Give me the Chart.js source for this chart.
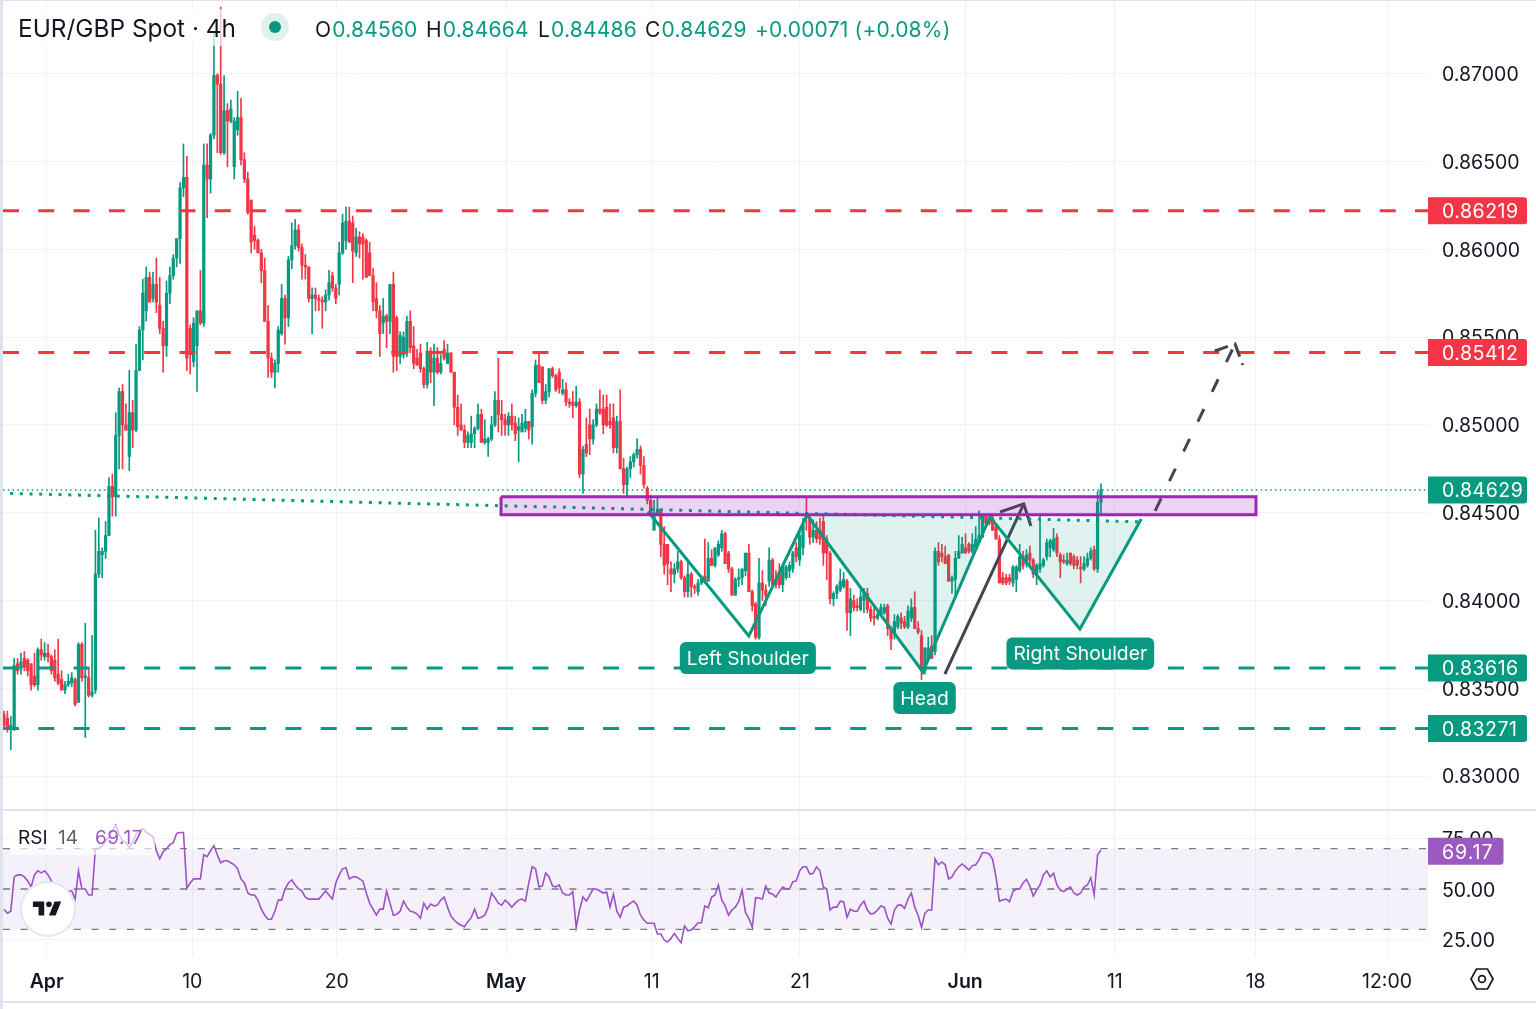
<!DOCTYPE html>
<html>
<head>
<meta charset="utf-8">
<title>EUR/GBP Spot 4h</title>
<script src="https://cdn.jsdelivr.net/npm/chart.js@4/dist/chart.umd.min.js"></script>
<style>
    html, body { margin: 0; padding: 0; background: #fff; }
    #page { position: relative; width: 1536px; height: 1009px; overflow: hidden; font-family: Inter, sans-serif; color: #131722; }
    canvas { position: absolute; left: 0; }
    #mainChart { top: 0; }
    #rsiChart { top: 810px; }
    .rule { position: absolute; background: #e0e3eb; }
    .txt { position: absolute; white-space: nowrap; line-height: 1; }
    .ohlc { top: 19px; font-size: 21px; letter-spacing: .2px; }
    .up { color: #089981; margin-left: 1px; }
    #headerBg { position: absolute; left: 10px; top: 9px; width: 950px; height: 37px; background: rgba(255,255,255,.7); }
    #rsiBg { position: absolute; left: 10px; top: 825px; width: 145px; height: 30px; background: rgba(255,255,255,.65); }
    #dotHalo { position: absolute; left: 261px; top: 13px; width: 28px; height: 28px; border-radius: 50%; background: #dff2ee; }
    #dot { position: absolute; left: 269px; top: 21px; width: 12px; height: 12px; border-radius: 50%; background: #089981; }
    #logo { position: absolute; left: 22px; top: 883px; width: 52px; height: 52px; border-radius: 50%; background: #fff; box-shadow: 0 0 0 2px #e4e6ed; }
    #logo svg { position: absolute; left: 9px; top: 12px; }
    #gear { position: absolute; left: 1469px; top: 966px; }
</style>
</head>
<body>
<div id="page">
    <canvas id="mainChart" width="1536" height="809"></canvas>
    <canvas id="rsiChart" width="1536" height="191"></canvas>

    <div class="rule" style="left:0;top:0;width:3px;height:1009px"></div>
    <div class="rule" style="left:0;top:0;width:1536px;height:1px"></div>
    <div class="rule" style="left:0;top:809px;width:1536px;height:2px"></div>
    <div class="rule" style="left:0;top:1001px;width:1536px;height:2px"></div>

    <div id="headerBg"></div>
    <div class="txt" style="left:18px;top:16px;font-size:24.4px">EUR/GBP Spot · 4h</div>
    <div id="dotHalo"></div>
    <div id="dot"></div>
    <div class="txt ohlc" style="left:315px">O<span class="up">0.84560</span></div>
    <div class="txt ohlc" style="left:426px">H<span class="up">0.84664</span></div>
    <div class="txt ohlc" style="left:538px">L<span class="up">0.84486</span></div>
    <div class="txt ohlc" style="left:645px">C<span class="up">0.84629</span></div>
    <div class="txt ohlc up" style="left:755px;margin:0">+0.00071 (+0.08%)</div>

    <div id="rsiBg"></div>
    <div class="txt" style="left:18px;top:828px;font-size:19px">RSI</div>
    <div class="txt" style="left:58px;top:828px;font-size:19px;color:#5d606b">14</div>
    <div class="txt" style="left:95px;top:828px;font-size:19px;letter-spacing:.5px;color:#9c59c4">69.17</div>

    <div id="logo">
        <svg width="34" height="28" viewBox="0 0 36 28"><path fill="#131722" d="M14 6H2v6h6v9h6V6zm12 15h-7l6-15h7l-6 15zm-7-9a3 3 0 1 0 0-6 3 3 0 0 0 0 6z"/></svg>
    </div>
    <svg id="gear" width="26" height="26" viewBox="0 0 26 26"><path fill="none" stroke="#131722" stroke-width="1.7" d="M7.5 3h11L24 13l-5.500 10h-11L2 13z"/><circle cx="13" cy="13" r="3.400" fill="none" stroke="#131722" stroke-width="1.7"/></svg>
</div>

<script>
// Prices are in units of 0.0001, x is the bar number (4h bars)
const opens = [
    8335,8333,8327,8328,8364,8361,8367,8366,8364,8357,8352,8372,8368,8370,8368,8366,8358,8355,8349,8352,8353,8355,8342,8375,8356,
    8356,8346,8349,8415,8426,8428,8437,8465,8459,8494,8519,8500,8482,8507,8497,8531,8554,8565,8584,8572,8580,8568,8555,8545,8575,
    8585,8595,8606,8635,8641,8555,8536,8545,8565,8558,8648,8640,8665,8699,8694,8655,8679,8673,8647,8668,8675,8651,8640,8628,8608,
    8605,8598,8588,8559,8538,8530,8535,8552,8572,8561,8594,8602,8611,8601,8591,8590,8572,8574,8572,8571,8570,8574,8585,8578,8580,
    8598,8605,8616,8615,8598,8607,8607,8605,8598,8585,8572,8565,8558,8562,8559,8580,8561,8539,8540,8541,8559,8545,8538,8541,8532,
    8523,8542,8530,8538,8530,8543,8535,8541,8530,8510,8500,8497,8490,8490,8495,8498,8506,8490,8490,8492,8500,8514,8506,8503,8500,
    8505,8501,8497,8496,8498,8502,8499,8518,8534,8533,8514,8519,8532,8528,8530,8518,8520,8513,8513,8511,8513,8472,8489,8500,8492,
    8500,8509,8509,8510,8502,8504,8487,8502,8475,8466,8475,8479,8483,8486,8477,8464,8457,8440,8450,8452,8432,8432,8418,8415,8418,
    8422,8413,8405,8415,8408,8405,8410,8414,8411,8424,8420,8426,8430,8438,8427,8418,8403,8412,8413,8417,8427,8405,8398,8379,8410,
    8406,8411,8423,8412,8415,8409,8413,8417,8418,8430,8423,8430,8449,8447,8436,8440,8440,8445,8435,8427,8401,8404,8406,8408,8411,
    8393,8400,8397,8395,8400,8404,8395,8391,8390,8392,8393,8397,8384,8381,8385,8390,8388,8385,8390,8396,8384,8380,8360,8367,8374,
    8371,8428,8427,8425,8426,8411,8412,8424,8427,8430,8432,8428,8430,8433,8436,8448,8447,8447,8442,8435,8413,8413,8413,8410,8412,
    8417,8425,8421,8427,8423,8414,8418,8420,8425,8430,8429,8436,8426,8423,8421,8427,8425,8423,8419,8418,8420,8424,8429,8418,8456
];
const highs = [
    8337,8337,8334,8367,8367,8370,8371,8367,8364,8370,8373,8378,8376,8375,8369,8372,8378,8360,8354,8358,8359,8356,8376,8376,8387,
    8361,8380,8440,8447,8430,8445,8470,8472,8507,8521,8523,8512,8531,8514,8546,8556,8583,8590,8587,8587,8595,8584,8559,8582,8590,
    8597,8606,8638,8660,8653,8557,8561,8565,8588,8660,8660,8666,8723,8700,8738,8699,8683,8685,8675,8690,8686,8655,8644,8628,8613,
    8606,8600,8595,8568,8541,8537,8556,8580,8574,8596,8615,8617,8614,8603,8597,8590,8578,8578,8574,8573,8577,8588,8587,8580,8604,
    8620,8624,8624,8619,8612,8610,8609,8606,8604,8589,8581,8568,8572,8563,8580,8587,8562,8553,8553,8562,8565,8556,8543,8546,8533,
    8547,8544,8546,8544,8540,8548,8546,8541,8530,8517,8512,8500,8496,8505,8499,8512,8509,8503,8493,8505,8519,8538,8514,8506,8507,
    8512,8505,8504,8506,8509,8502,8520,8537,8541,8533,8523,8532,8533,8529,8532,8526,8524,8515,8519,8522,8515,8488,8504,8509,8503,
    8512,8520,8517,8517,8512,8512,8505,8520,8481,8476,8482,8484,8492,8488,8482,8465,8460,8457,8459,8452,8442,8432,8422,8421,8428,
    8423,8414,8422,8416,8409,8412,8414,8435,8433,8429,8430,8434,8440,8439,8428,8419,8413,8418,8418,8427,8432,8406,8399,8424,8417,
    8409,8430,8424,8417,8421,8420,8420,8422,8428,8433,8440,8447,8459,8448,8446,8445,8447,8448,8437,8428,8405,8409,8418,8416,8412,
    8407,8403,8401,8406,8407,8407,8397,8396,8393,8398,8398,8398,8385,8392,8392,8393,8391,8397,8401,8405,8388,8383,8373,8379,8380,
    8430,8433,8432,8431,8426,8414,8428,8437,8436,8438,8433,8438,8442,8451,8449,8449,8449,8449,8444,8437,8416,8415,8415,8420,8420,
    8432,8428,8429,8431,8424,8421,8448,8424,8435,8435,8441,8438,8427,8426,8427,8427,8426,8425,8425,8425,8427,8430,8431,8462,8466.4
];
const lows = [
    8327,8325,8315,8326,8358,8358,8360,8357,8349,8351,8349,8366,8366,8365,8358,8354,8352,8349,8347,8351,8351,8340,8342,8354,8322,
    8345,8345,8347,8413,8413,8424,8437,8448,8448,8475,8475,8497,8474,8487,8496,8531,8537,8559,8570,8570,8564,8552,8530,8539,8569,
    8583,8590,8592,8630,8531,8529,8533,8519,8557,8556,8618,8632,8663,8655,8654,8654,8647,8672,8640,8665,8648,8638,8620,8598,8600,
    8598,8581,8559,8527,8527,8521,8530,8551,8546,8556,8589,8600,8599,8583,8583,8570,8552,8565,8565,8555,8565,8571,8576,8569,8574,
    8597,8600,8604,8581,8596,8595,8583,8584,8585,8565,8561,8539,8552,8544,8552,8530,8531,8535,8538,8539,8541,8532,8534,8530,8521,
    8521,8524,8511,8529,8529,8537,8535,8530,8500,8494,8497,8487,8487,8487,8487,8497,8490,8489,8482,8491,8499,8496,8494,8494,8494,
    8497,8491,8479,8496,8496,8492,8489,8516,8524,8512,8512,8516,8527,8519,8518,8517,8511,8510,8504,8510,8470,8461,8482,8483,8489,
    8499,8506,8495,8499,8498,8484,8484,8475,8461,8459,8470,8476,8481,8472,8464,8455,8450,8440,8449,8425,8415,8409,8405,8410,8416,
    8412,8402,8402,8402,8404,8403,8409,8410,8411,8420,8419,8425,8428,8421,8416,8403,8403,8408,8409,8414,8405,8394,8378,8378,8400,
    8397,8408,8409,8407,8407,8405,8412,8413,8416,8422,8420,8426,8440,8432,8433,8433,8432,8420,8412,8398,8397,8401,8405,8407,8383,
    8380,8394,8394,8394,8393,8393,8388,8386,8389,8391,8392,8380,8372,8378,8384,8384,8384,8384,8388,8384,8381,8355,8358,8366,8367,
    8369,8420,8422,8421,8411,8404,8403,8424,8427,8427,8427,8427,8430,8433,8436,8442,8443,8440,8435,8410,8409,8409,8409,8408,8405,
    8416,8418,8419,8420,8413,8409,8416,8419,8423,8425,8428,8425,8413,8421,8420,8420,8418,8418,8410,8417,8419,8423,8417,8416,8448.6
];
const closes = [
    8329,8327,8329,8363,8360,8365,8362,8360,8352,8352,8372,8369,8370,8368,8360,8356,8353,8349,8352,8354,8356,8341,8375,8356,8357,
    8346,8348,8415,8428,8428,8437,8465,8459,8494,8519,8500,8497,8507,8497,8531,8554,8575,8584,8570,8580,8570,8555,8545,8575,8585,
    8595,8606,8635,8641,8538,8540,8558,8565,8558,8648,8640,8665,8699,8694,8655,8679,8673,8680,8673,8675,8651,8640,8621,8604,8605,
    8598,8588,8559,8538,8530,8535,8554,8572,8561,8594,8602,8611,8601,8591,8590,8572,8574,8572,8571,8570,8574,8581,8578,8572,8598,
    8615,8616,8604,8599,8607,8603,8603,8584,8585,8570,8565,8552,8562,8559,8580,8539,8539,8551,8550,8559,8544,8535,8534,8532,8523,
    8542,8530,8538,8530,8535,8538,8541,8530,8510,8499,8497,8490,8494,8495,8498,8506,8490,8492,8492,8500,8514,8506,8503,8500,8505,
    8500,8495,8499,8501,8502,8497,8518,8534,8524,8514,8519,8532,8528,8520,8521,8520,8513,8512,8511,8513,8472,8486,8484,8492,8500,
    8509,8507,8500,8500,8500,8487,8502,8475,8466,8475,8479,8483,8486,8477,8466,8457,8450,8450,8452,8432,8420,8421,8415,8418,8422,
    8413,8405,8415,8408,8407,8410,8412,8411,8424,8420,8430,8432,8438,8421,8418,8403,8412,8413,8418,8427,8405,8397,8379,8410,8406,
    8403,8423,8409,8409,8409,8420,8419,8420,8427,8425,8437,8443,8448,8436,8440,8435,8435,8427,8427,8401,8404,8408,8411,8412,8393,
    8401,8396,8396,8402,8405,8395,8390,8390,8392,8396,8396,8384,8378,8388,8391,8387,8385,8394,8396,8384,8382,8360,8373,8373,8367,
    8428,8422,8425,8421,8411,8413,8424,8428,8432,8427,8428,8432,8435,8437,8448,8444,8444,8440,8435,8410,8410,8410,8411,8419,8419,
    8425,8420,8426,8423,8415,8420,8421,8423,8433,8434,8435,8427,8422,8422,8423,8421,8420,8420,8418,8421,8424,8428,8418,8456,8462.9
];
const rsiValues = [
    40,38,39,56,57,57,56,54,51,57,59,58,59,57,54,52,51,49.5,48,49,49,45,59,50,50,
    47,47,70,70,71.5,74,75.6,79,81.7,77,74,73,70.5,73,77,79,80,78,77,76,69,65,68.5,70,72,
    73,77.6,78,78,50.5,53,55,55,55,67,66,69,71.5,67,63,64,64,63,62,60,55,53,48,47,47,
    44.5,40,37,35,35,39,44.5,44.5,50,53,54.5,52,50,49,46,45,45,45,45,47,49,47,45,53,57,
    60,60.5,55,56,56,55,54,48,43,40,37,40,40,49,43,37,37.5,39,44,41,39,38.6,37.6,35.5,43,
    40,42.5,41.6,42,44.5,46,41,36.6,34.6,33,32,31.3,33.8,35.8,40,35.5,36,37,41,48,45.7,43,42,44.5,43,
    41,43,44.5,45,44,53,61,60,51,51.6,58,56,51.5,51,52,48,47,47,48.7,31,39.6,46,44,47,50,
    50,49,48,48.5,41,47.5,39,36,41,41.6,43,44,42,37,34.6,33,33,33,27.7,27.7,24.7,23.7,25.500,28,25.500,
    23.4,31.7,29.3,29.7,31.3,33.3,33.3,41.6,40.7,46,47,52,44.5,41.6,37,39.6,41,43.7,49.5,38.4,35.5,31,45.7,45.5,45,
    51.5,48,47.5,46,48.7,51,50,50,53.6,54,59,61,61,57.4,57.8,61,59,51,50,39.6,41,41,44,43.7,36,
    40,39,39,42,44,39.6,37.6,38,39.6,41.6,41,35.5,32.6,39.6,42,42,40.4,45,48,41,37,31,38,39.6,39.6,
    65,62,63.4,62,55,56,59,61,62.4,61,59.4,61.6,62,64.4,68,68,67.4,64.7,56,44,44.5,45,43.7,48.7,50,
    50,53,54.8,51.5,46.5,49.5,52,57,59,56,57.8,52,49.5,48.7,50,51,48,47,48,51,52,55.6,47,67,69.17
];
const barNumbers = opens.map((_, i) => i);

// Horizontal levels
const redLevels = [8621.9, 8541.2];
const greenLevels = [8361.6, 8327.1];
const lastPrice = 8462.9;
const rsiLevels = [70, 50, 30];

// Axis ticks
const priceTicks = [8300, 8350, 8400, 8450, 8500, 8550, 8600, 8650, 8700];
const rsiTicks = [25, 50, 75];
const timeTicks = [12.6, 55.6, 98.3, 148.3, 191.3, 235.1, 283.9, 328.1, 369.7, 408.5];
const timeLabels = ['Apr', '10', '20', 'May', '11', '21', 'Jun', '11', '18', '12:00'];
const boldLabels = ['Apr', 'May', 'Jun'];

// Drawings, as bar number and price
const zoneX = [146.8, 369.8];
const zonePrices = [8459.1, 8448.9];
const necklineX = [1.8, 336];
const necklinePrices = [8461, 8444.8];
const patternX = [190.2, 220, 237.2, 271.4, 291.2, 317.8, 335.9];
const patternPrices = [8450.7, 8379.8, 8448.7, 8359.3, 8447.6, 8383.8, 8446.4];
const headX = [237.2, 271.4, 291.2];
const headTop = [8449.6, 8448.3, 8447];
const headBottom = [8449.6, 8359.3, 8447];
const rightX = [291.2, 317.8, 335.9];
const rightTop = [8447, 8445.7, 8444.8];
const rightBottom = [8447, 8383.8, 8444.8];
const arrowX = [277.9, 301.2];
const arrowPrices = [8358.1, 8455];
const arrowHeadX = [294.2, 301.2, 303.3];
const arrowHeadPrices = [8450.4, 8455, 8442.4];
const forecastX = [340, 363.6];
const forecastPrices = [8451, 8546.1];
const forecastHeadX = [357.6, 363.6, 365.9];
const forecastHeadPrices = [8542.1, 8546.1, 8534.1];

const patternLabels = ['Left Shoulder', 'Head', 'Right Shoulder'];
const patternLabelX = [219.7, 271.9, 317.9];
const patternLabelPrices = [8367.3, 8344.5, 8369.8];

const UP = '#089981';
const DOWN = '#f23645';
const GREY = '#434651';
const GRID = '#f1f2f5';
const RSI_COLOR = '#9c52c4';
const FONT = 'Inter';
const X_MIN = -0.3;
const X_MAX = 420.6;

Chart.defaults.font.family = FONT;
Chart.defaults.animation = false;

function points(xs, ys) {
    return xs.map((x, i) => ({ x: x, y: ys[i] }));
}

function lineSet(data, color, width, extra) {
    return Object.assign({
        type: 'line',
        data: data,
        borderColor: color,
        borderWidth: width,
        pointRadius: 0,
        fill: false,
        borderCapStyle: 'butt',
        order: 0
    }, extra || {});
}

function flatLine(value, dash, color, width) {
    return lineSet(points([X_MIN, X_MAX], [value, value]), color, width, { borderDash: dash });
}

function candleColor(ctx) {
    const i = ctx.dataIndex;
    return closes[i] >= opens[i] ? UP : DOWN;
}

function roundedBox(ctx, x, y, w, h, r, color) {
    ctx.fillStyle = color;
    ctx.beginPath();
    ctx.roundRect(x, y, w, h, r);
    ctx.fill();
}

// Coloured price badges on the right axis
function axisBadge(ctx, y, width, text, color) {
    roundedBox(ctx, 1428, y - 13.5, width, 27, [0, 3, 3, 0], color);
    ctx.fillStyle = '#fff';
    ctx.textAlign = 'left';
    ctx.textBaseline = 'middle';
    ctx.fillText(text, 1442, y + 1.5);
}

const priceBadges = {
    id: 'priceBadges',
    afterDraw(chart) {
        const ctx = chart.ctx;
        const y = chart.scales.y;
        ctx.save();
        ctx.font = '19.5px ' + FONT;
        ctx.letterSpacing = '.5px';
        redLevels.forEach(v => axisBadge(ctx, y.getPixelForValue(v), 99, (v / 10000).toFixed(5), DOWN));
        greenLevels.forEach(v => axisBadge(ctx, y.getPixelForValue(v), 99, (v / 10000).toFixed(5), UP));
        axisBadge(ctx, y.getPixelForValue(lastPrice), 99, (lastPrice / 10000).toFixed(5), UP);

        // Pattern labels
        ctx.letterSpacing = '0px';
        ctx.font = '19.3px ' + FONT;
        patternLabels.forEach((text, i) => {
            const cx = chart.scales.x.getPixelForValue(patternLabelX[i]);
            const cy = y.getPixelForValue(patternLabelPrices[i]);
            const w = ctx.measureText(text).width + 14;
            roundedBox(ctx, cx - w / 2, cy - 16, w, 32, 6, UP);
            ctx.fillStyle = '#fff';
            ctx.textAlign = 'center';
            ctx.textBaseline = 'middle';
            ctx.fillText(text, cx, cy + 1);
        });
        ctx.restore();
    }
};

const rsiBadge = {
    id: 'rsiBadge',
    afterDraw(chart) {
        const ctx = chart.ctx;
        const last = rsiValues[rsiValues.length - 1];
        ctx.save();
        ctx.font = '19.5px ' + FONT;
        ctx.letterSpacing = '1px';
        axisBadge(ctx, chart.scales.y.getPixelForValue(last) + 1, 75.5, last.toFixed(2), '#9c59c0');
        ctx.restore();
    }
};

function pinHeight(height) {
    return function (scale) {
        scale.height = height;
        scale.paddingLeft = 0;
        scale.paddingRight = 0;
    };
}

function pinWidth(scale) {
    scale.width = 108;
    scale.paddingTop = 0;
    scale.paddingBottom = 0;
}

new Chart(document.getElementById('mainChart'), {
    data: {
        datasets: [
            // Shaded head and right shoulder, each pair fills to the next set
            lineSet(points(headX, headTop), 'transparent', 0, { fill: '+1', backgroundColor: 'rgba(8,153,129,.13)' }),
            lineSet(points(headX, headBottom), 'transparent', 0),
            lineSet(points(rightX, rightTop), 'transparent', 0, { fill: '+1', backgroundColor: 'rgba(8,153,129,.13)' }),
            lineSet(points(rightX, rightBottom), 'transparent', 0),
            // Resistance zone
            lineSet(points(zoneX, [zonePrices[0], zonePrices[0]]), 'transparent', 0, { fill: '+1', backgroundColor: 'rgba(156,39,176,.2)' }),
            lineSet(points(zoneX, [zonePrices[1], zonePrices[1]]), 'transparent', 0),
            lineSet(points(
                [zoneX[0], zoneX[1], zoneX[1], zoneX[0], zoneX[0]],
                [zonePrices[0], zonePrices[0], zonePrices[1], zonePrices[1], zonePrices[0]]
            ), '#9c27b0', 3),
            lineSet(points(patternX, patternPrices), UP, 3),
            lineSet(points(necklineX, necklinePrices), UP, 3, { borderDash: [3, 6.7] }),
            lineSet(points(arrowX, arrowPrices), GREY, 3),
            lineSet(points(arrowHeadX, arrowHeadPrices), GREY, 3),
            lineSet(points(forecastX, forecastPrices), GREY, 3, { borderDash: [14, 19] }),
            lineSet(points(forecastHeadX, forecastHeadPrices), GREY, 3, { borderDash: [14, 7] }),
            flatLine(lastPrice, [1.5, 3.3], UP, 1.5),
            ...redLevels.map(v => flatLine(v, [16, 19.3], DOWN, 3)),
            ...greenLevels.map(v => flatLine(v, [16, 19.3], UP, 3)),
            // Candles
            {
                type: 'bar',
                data: barNumbers.map(i => ({ x: i, y: [opens[i], closes[i]] })),
                backgroundColor: candleColor,
                barThickness: 2.6,
                minBarLength: 1,
                grouped: false,
                order: 1
            },
            {
                type: 'bar',
                data: barNumbers.map(i => ({ x: i, y: [lows[i], highs[i]] })),
                backgroundColor: candleColor,
                barThickness: 1,
                grouped: false,
                order: 2
            }
        ]
    },
    options: {
        responsive: false,
        layout: { padding: { left: 3, right: 0, top: 0, bottom: 0 } },
        plugins: { legend: { display: false }, tooltip: { enabled: false } },
        events: [],
        scales: {
            x: {
                type: 'linear',
                offset: false,
                min: X_MIN,
                max: X_MAX,
                grid: { color: GRID, offset: false, drawTicks: false },
                border: { display: false },
                ticks: { display: false },
                afterBuildTicks(scale) { scale.ticks = timeTicks.map(v => ({ value: v })); },
                afterFit: pinHeight(0)
            },
            y: {
                type: 'linear',
                position: 'right',
                min: 8281.27,
                max: 8741.97,
                grid: { color: GRID, drawTicks: false },
                border: { display: false },
                ticks: {
                    color: '#131722',
                    padding: 14,
                    // the empty first line and small line height push the label down a little
                    font: { size: 19.5, lineHeight: '3px' },
                    callback: v => ['', (v / 10000).toFixed(5)]
                },
                afterBuildTicks(scale) { scale.ticks = priceTicks.map(v => ({ value: v })); },
                afterFit: pinWidth
            }
        }
    },
    plugins: [priceBadges]
});

new Chart(document.getElementById('rsiChart'), {
    data: {
        datasets: [
            lineSet(points(barNumbers, rsiValues), RSI_COLOR, 1.6),
            lineSet(points([X_MIN, X_MAX], [70, 70]), 'transparent', 0, { fill: '+1', backgroundColor: 'rgba(126,87,194,.085)' }),
            lineSet(points([X_MIN, X_MAX], [30, 30]), 'transparent', 0),
            ...rsiLevels.map(v => flatLine(v, [7, 10.7], '#787b86', 1.4))
        ]
    },
    options: {
        responsive: false,
        layout: { padding: { left: 3, right: 0, top: 0, bottom: 0 } },
        plugins: { legend: { display: false }, tooltip: { enabled: false } },
        events: [],
        scales: {
            x: {
                type: 'linear',
                offset: false,
                min: X_MIN,
                max: X_MAX,
                grid: { color: GRID, offset: false, drawTicks: false },
                border: { display: false },
                ticks: {
                    color: '#131722',
                    padding: 14,
                    autoSkip: false,
                    maxRotation: 0,
                    font: ctx => ({
                        size: 19.5,
                        weight: ctx.tick && boldLabels.includes(timeLabels[timeTicks.indexOf(ctx.tick.value)]) ? '600' : '400'
                    }),
                    callback: v => timeLabels[timeTicks.indexOf(v)]
                },
                afterBuildTicks(scale) { scale.ticks = timeTicks.map(v => ({ value: v })); },
                afterFit: pinHeight(45)
            },
            y: {
                type: 'linear',
                position: 'right',
                min: 16.78,
                max: 89.17,
                grid: { color: GRID, drawTicks: false },
                border: { display: false },
                ticks: {
                    color: '#131722',
                    padding: 14,
                    font: { size: 19.5, lineHeight: '4px' },
                    callback: v => ['', v.toFixed(2)]
                },
                afterBuildTicks(scale) { scale.ticks = rsiTicks.map(v => ({ value: v })); },
                afterFit: pinWidth
            }
        }
    },
    plugins: [rsiBadge]
});
</script>
</body>
</html>
